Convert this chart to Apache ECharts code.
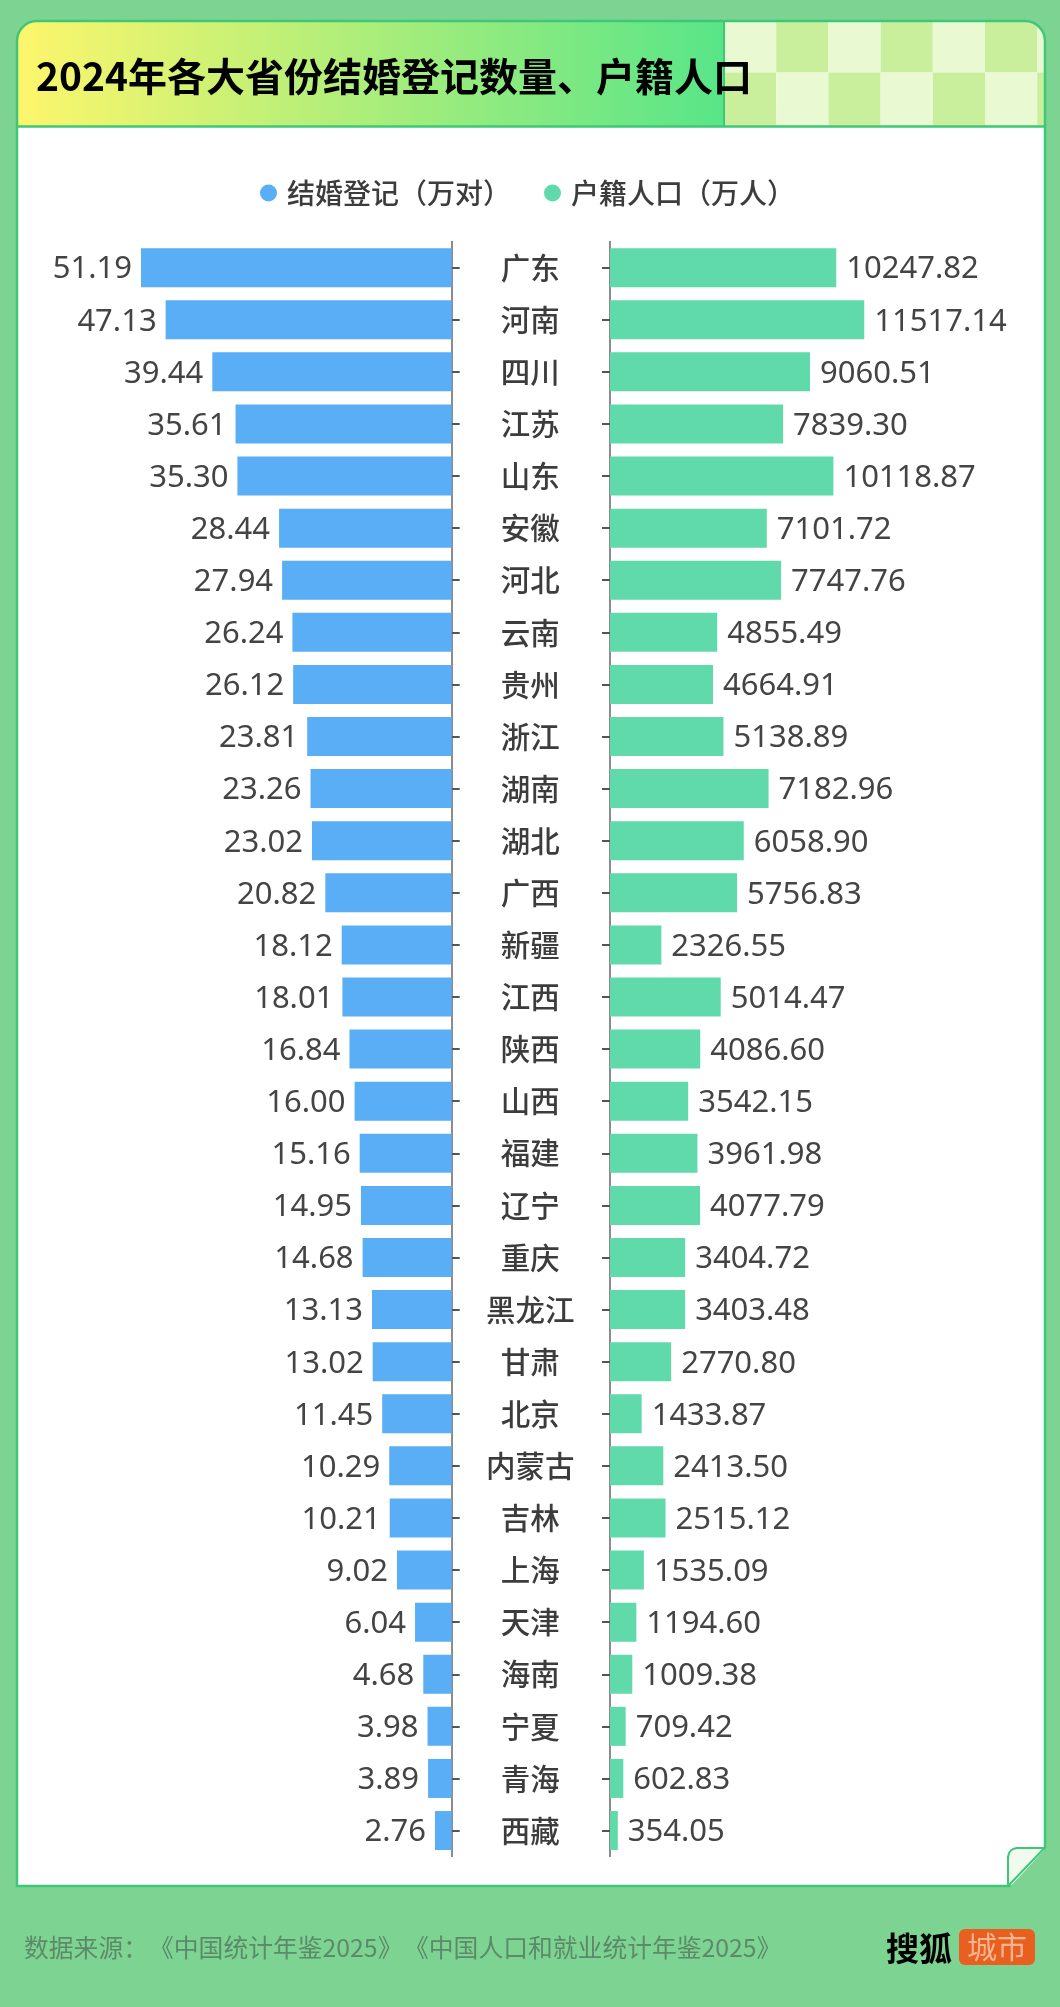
<!DOCTYPE html>
<html>
<head>
<meta charset="utf-8">
<title>2024年各大省份结婚登记数量、户籍人口</title>
<script src="https://cdn.jsdelivr.net/npm/echarts@6/dist/echarts.min.js"></script>
<style>
    html, body { margin: 0; padding: 0; background: #7dd492; }
    #chart { width: 1060px; height: 2007px; }
</style>
</head>
<body>
<div id="chart"></div>
<script>
// 省份
const provinces = ['广东', '河南', '四川', '江苏', '山东', '安徽', '河北', '云南', '贵州', '浙江', '湖南', '湖北', '广西', '新疆', '江西', '陕西', '山西', '福建', '辽宁', '重庆', '黑龙江', '甘肃', '北京', '内蒙古', '吉林', '上海', '天津', '海南', '宁夏', '青海', '西藏'];
// 结婚登记（万对）
const marriages = ['51.19', '47.13', '39.44', '35.61', '35.30', '28.44', '27.94', '26.24', '26.12', '23.81', '23.26', '23.02', '20.82', '18.12', '18.01', '16.84', '16.00', '15.16', '14.95', '14.68', '13.13', '13.02', '11.45', '10.29', '10.21', '9.02', '6.04', '4.68', '3.98', '3.89', '2.76'];
// 户籍人口（万人）
const population = ['10247.82', '11517.14', '9060.51', '7839.30', '10118.87', '7101.72', '7747.76', '4855.49', '4664.91', '5138.89', '7182.96', '6058.90', '5756.83', '2326.55', '5014.47', '4086.60', '3542.15', '3961.98', '4077.79', '3404.72', '3403.48', '2770.80', '1433.87', '2413.50', '2515.12', '1535.09', '1194.60', '1009.38', '709.42', '602.83', '354.05'];

const FONT = '"Noto Sans CJK SC", "Noto Sans", sans-serif';
const NUM_FONT = '"Noto Sans", "Noto Sans CJK SC", sans-serif';
const BG = '#7dd492';
const BORDER = '#3ec777';

// 标题栏右侧的格子
function headerChecks() {
    const list = [];
    const startX = 724, cellW = 52.2, rows = [[22, 72.5], [72.5, 126]];
    rows.forEach((row, r) => {
        for (let c = 0; c < 7; c++) {
            const x = startX + c * cellW;
            const w = Math.min(cellW, 1045 - x);
            list.push({
                type: 'rect',
                shape: { x: x, y: row[0], width: w, height: row[1] - row[0] },
                style: { fill: (r + c) % 2 === 0 ? '#e9fad2' : '#c9ef9d' }
            });
        }
    });
    return list;
}

// 盖住格子超出圆角的部分
function cornerMask() {
    const r = 20, cx = 1045 - r, cy = 21 + r;
    const points = [[cx, 19]];
    for (let a = 0; a <= 90; a += 10) {
        const rad = a * Math.PI / 180;
        points.push([cx + r * Math.sin(rad), cy - r * Math.cos(rad)]);
    }
    points.push([1047, cy], [1047, 19]);
    return { type: 'polygon', shape: { points: points }, style: { fill: BG } };
}

// 数据来源，分三段写，书名号之间留出全角宽度
function sourceText(text, x) {
    return { type: 'text', z: 10, silent: true, x: x, y: 1948, style: { text: text, font: '400 24.8px ' + FONT, fill: '#5c8a69', textVerticalAlign: 'middle' } };
}

const chart = echarts.init(document.getElementById('chart'));

const option = {
    backgroundColor: BG,
    animation: false,
    textStyle: { fontFamily: FONT },
    legend: {
        left: 255,
        top: 174,
        icon: 'circle',
        itemWidth: 17,
        itemHeight: 17,
        itemGap: 33,
        data: ['结婚登记（万对）', '户籍人口（万人）'],
        textStyle: { fontSize: 28, fontWeight: 500, color: '#3c3c3c', fontFamily: FONT, padding: [0, 0, 0, 5] }
    },
    grid: [
        { left: 87.5, width: 364.2, top: 241.6, height: 1615 },
        { left: 610, width: 287, top: 241.6, height: 1615 }
    ],
    xAxis: [
        { type: 'value', gridIndex: 0, inverse: true, min: 0, max: 60, show: false },
        { type: 'value', gridIndex: 1, min: 0, max: 13000, show: false }
    ],
    yAxis: [
        {
            type: 'category',
            gridIndex: 0,
            position: 'right',
            inverse: true,
            data: provinces,
            axisLine: { lineStyle: { color: '#666666', width: 1.5 } },
            axisTick: { show: true, alignWithLabel: true, length: 8, lineStyle: { color: '#555555', width: 2 } },
            axisLabel: {
                interval: 0,
                align: 'center',
                margin: 78.5,
                fontSize: 29.5,
                fontWeight: 500,
                color: '#3c3c3c',
                fontFamily: FONT,
                padding: [3, 0, 0, 0]
            }
        },
        {
            type: 'category',
            gridIndex: 1,
            position: 'left',
            inverse: true,
            data: provinces,
            axisLine: { lineStyle: { color: '#666666', width: 1.5 } },
            axisTick: { show: true, alignWithLabel: true, length: 8, lineStyle: { color: '#555555', width: 2 } },
            axisLabel: { show: false }
        }
    ],
    series: [
        {
            name: '结婚登记（万对）',
            type: 'bar',
            xAxisIndex: 0,
            yAxisIndex: 0,
            barWidth: 39,
            data: marriages,
            itemStyle: { color: '#5aaef5' },
            label: { show: true, position: 'left', distance: 9, offset: [0, 2], fontSize: 31, color: '#444444', fontFamily: NUM_FONT }
        },
        {
            name: '户籍人口（万人）',
            type: 'bar',
            xAxisIndex: 1,
            yAxisIndex: 1,
            barWidth: 39,
            data: population,
            itemStyle: { color: '#60d9ab' },
            label: { show: true, position: 'right', distance: 10, offset: [0, 2], fontSize: 31, color: '#444444', fontFamily: NUM_FONT }
        }
    ],
    graphic: [
        // 卡片、标题栏等放在图表下面
        {
            type: 'group',
            z: -10,
            silent: true,
            children: [
                { type: 'rect', shape: { x: 17, y: 21, width: 1028, height: 1865, r: [20, 20, 0, 0] }, style: { fill: '#ffffff' } },
                { type: 'rect', shape: { x: 17, y: 21, width: 707, height: 105, r: [20, 0, 0, 0] }, style: { fill: new echarts.graphic.LinearGradient(0, 0, 1, 0, [{ offset: 0, color: '#fdf66c' }, { offset: 1, color: '#58e588' }]) } }
            ].concat(headerChecks()).concat([
                cornerMask(),
                { type: 'rect', shape: { x: 17, y: 21, width: 1028, height: 1865, r: [20, 20, 0, 0] }, style: { fill: null, stroke: BORDER, lineWidth: 2.5 } },
                { type: 'line', shape: { x1: 724, y1: 22, x2: 724, y2: 126 }, style: { stroke: BORDER, lineWidth: 2 } },
                { type: 'line', shape: { x1: 17, y1: 126.5, x2: 1045, y2: 126.5 }, style: { stroke: BORDER, lineWidth: 2.5 } },
                // 右下角折页
                { type: 'polygon', shape: { points: [[1009, 1888], [1047, 1888], [1047, 1847]] }, style: { fill: BG } },
                { type: 'polygon', shape: { points: [[1008, 1886], [1008, 1857], [1009, 1853], [1011, 1850.5], [1013, 1849], [1017, 1848], [1044.5, 1848]] }, style: { fill: '#f1faee', stroke: BORDER, lineWidth: 2, lineJoin: 'round' } }
            ])
        },
        { type: 'text', z: 10, silent: true, x: 36, y: 76, style: { text: '2024年各大省份结婚登记数量、户籍人口', font: '700 39px ' + FONT, fill: '#000000', textVerticalAlign: 'middle' } },
        sourceText('数据来源：', 24),
        sourceText('《中国统计年鉴2025》', 149),
        sourceText('《中国人口和就业统计年鉴2025》', 404),
        { type: 'text', z: 10, silent: true, x: 886, y: 1948, style: { text: '搜狐', font: '700 33px ' + FONT, fill: '#000000', textVerticalAlign: 'middle' } },
        { type: 'rect', z: 10, silent: true, shape: { x: 959, y: 1929, width: 76, height: 36, r: 6 }, style: { fill: '#e85f20' } },
        { type: 'text', z: 11, silent: true, x: 997, y: 1947, style: { text: '城市', font: '400 30px ' + FONT, fill: '#f6b58f', textAlign: 'center', textVerticalAlign: 'middle' } }
    ]
};

chart.setOption(option);
</script>
</body>
</html>
